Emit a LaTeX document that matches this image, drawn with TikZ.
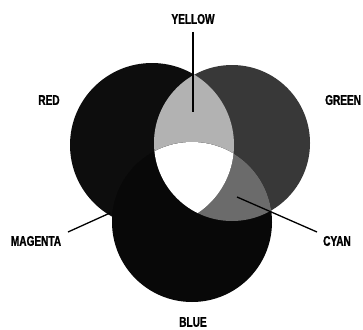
\documentclass[tikz,border=0pt]{standalone}
\usepackage{fontspec}
\newfontfamily\labfont[FakeStretch=0.72,FakeBold=1.2]{Liberation Sans Bold}
\begin{document}
\begin{tikzpicture}[x=1pt,y=-1pt,
  lab/.style={font=\labfont\fontsize{14}{15}\selectfont, inner sep=0pt, text=black},
  leader/.style={draw=black, line width=1.3pt}]
\clip (0,0) rectangle (363,329);
\fill[white] (0,0) rectangle (363,329);
\colorlet{redc}{black!95}
\colorlet{greenc}{black!78}
\colorlet{bluec}{black!97}
\colorlet{yelc}{black!30}
\colorlet{cyanc}{black!58}
\coordinate (R) at (152,145);
\coordinate (G) at (232,143);
\coordinate (B) at (192,222);
\def\rr{82pt}\def\rg{78pt}\def\rb{80pt}
\fill[redc] (R) circle[radius=\rr];
\fill[greenc] (G) circle[radius=\rg];
\fill[bluec] (B) circle[radius=\rb];
\begin{scope}
  \clip (R) circle[radius=\rr];
  \fill[yelc] (G) circle[radius=\rg];
\end{scope}
\begin{scope}
  \clip (G) circle[radius=\rg];
  \fill[cyanc] (B) circle[radius=\rb];
\end{scope}
\begin{scope}
  \clip (R) circle[radius=\rr];
  \fill[bluec] (B) circle[radius=\rb];
\end{scope}
\begin{scope}
  \clip (R) circle[radius=\rr];
  \clip (G) circle[radius=\rg];
  \fill[white] (B) circle[radius=\rb];
\end{scope}
% labels
\node[lab] (yellow) at (193,19) {YELLOW};
\node[lab] (red) at (49,100) {RED};
\node[lab, anchor=west] (green) at (325,100) {GREEN};
\node[lab] (magenta) at (36,241) {MAGENTA};
\node[lab] (cyan) at (337,241) {CYAN};
\node[lab] (blue) at (193,322) {BLUE};
% leaders
\coordinate (y1) at (193,32);
\coordinate (y2) at (193,112);
\coordinate (m1) at (68,232);
\coordinate (m2) at (110,213);
\coordinate (c1) at (317,232);
\coordinate (c2) at (237,197);
\draw[leader] (y1) -- (y2);
\draw[leader] (m1) -- (m2);
\draw[leader] (c1) -- (c2);
\end{tikzpicture}
\end{document}
